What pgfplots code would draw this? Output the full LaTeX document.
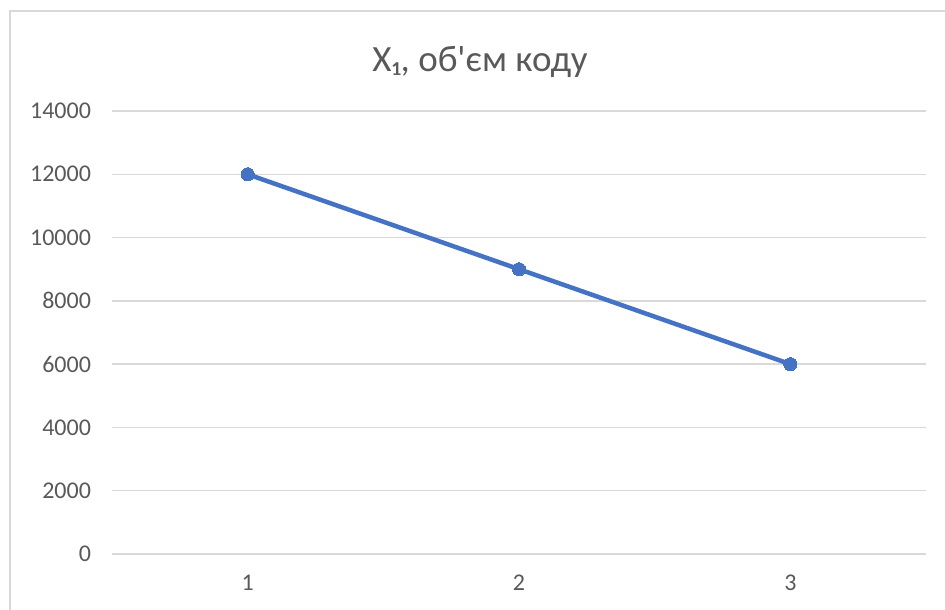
\documentclass[border=0pt]{standalone}
\usepackage{fontspec}
\setmainfont{Carlito}
\newfontfamily\plainfont{Carlito}
\usepackage{pgfplots}
\pgfplotsset{compat=1.18}
\definecolor{gridc}{HTML}{D9D9D9}
\definecolor{txt}{HTML}{595959}
\definecolor{lineblue}{HTML}{4472C4}
\begin{document}
\begin{tikzpicture}[x=1pt,y=1pt]
\clip (0,0) rectangle (472.5,304.5);
\path[use as bounding box] (0,0) rectangle (472.5,304.5);
\draw[gridc, line width=0.75pt] (5,-20) rectangle (490,299);
\node[text=txt, font=\plainfont\fontsize{18.5}{22}\selectfont] at (240,273.5) {X₁, об'єм коду};
\begin{axis}[
  at={(56pt,27.5pt)}, anchor=origin,
  scale only axis, width=407pt, height=221.5pt,
  xmin=0.5, xmax=3.5, ymin=0, ymax=14000,
  xtick={1,2,3}, ytick={0,2000,...,14000},
  scaled ticks=false,
  axis line style={draw=none},
  tick style={draw=none},
  ymajorgrids, grid style={gridc, line width=0.75pt},
  ticklabel style={text=txt, font=\fontsize{12}{14}\selectfont},
  /pgf/number format/assume math mode=true,
  /pgf/number format/1000 sep={},
  yticklabel style={xshift=-7pt},
  xticklabel style={yshift=-7pt},
  clip=false,
]
\addplot[lineblue, line width=2.25pt, mark=*, mark size=3.3pt, mark options={fill=lineblue, draw=lineblue, line width=0pt}]
  coordinates {(1,12000) (2,9000) (3,6000)};
\end{axis}
\end{tikzpicture}
\end{document}
